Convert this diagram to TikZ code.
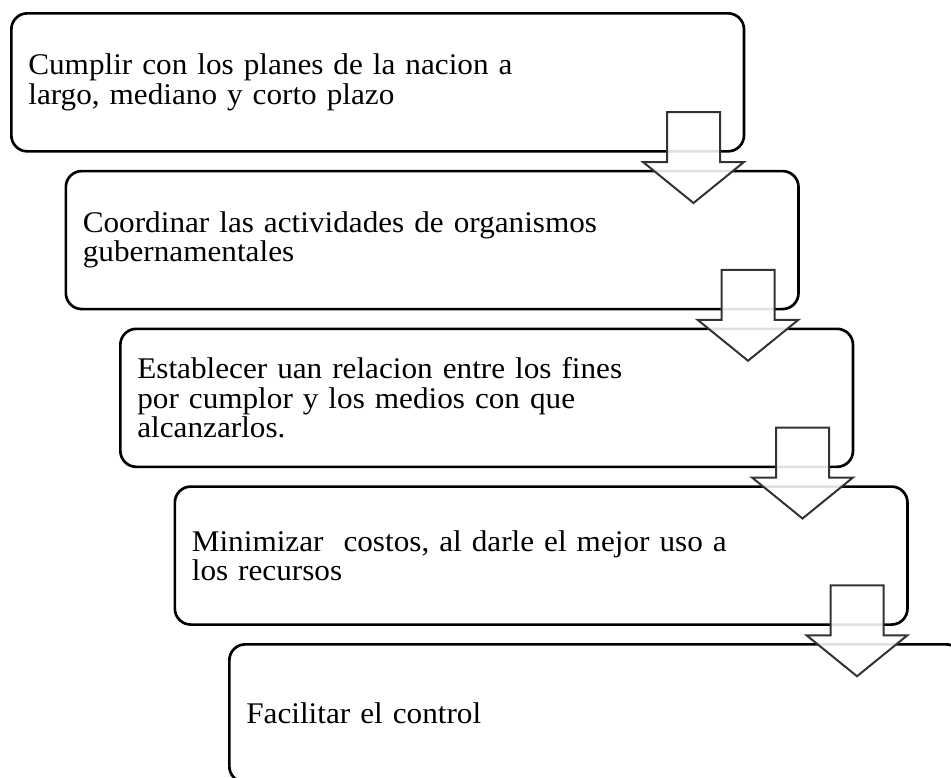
\documentclass[tikz,border=0pt]{standalone}
\usepackage{fontspec}
\setmainfont[FakeStretch=1.04]{Liberation Serif}
\usetikzlibrary{calc}
\def\boxh{103.5pt}
\def\boxtw{524pt}

\tikzset{
  stepbox/.style={draw, line width=2pt, rounded corners=12pt, anchor=north west,
    minimum height=\boxh, text width=\boxtw, inner xsep=12.75pt, align=left,
    font=\fontsize{22.5}{22}\selectfont},
  downarrow/.pic={
    \draw[line width=1.5pt, black!80, fill=white, fill opacity=.88, line join=miter]
      (-26.5,0) -- (26.5,0) -- (26.5,50) -- (50.5,50) -- (0,91)
      -- (-50.5,50) -- (-26.5,50) -- cycle;
  }
}

\begin{document}
\begin{tikzpicture}[x=.75pt,y=-.75pt]
  \useasboundingbox (0,0) rectangle (951,778);
  \clip (0,0) rectangle (951,778);

  \node[stepbox] (box1) at (10,12)
    {Cumplir con los planes de la nacion a\\largo, mediano y corto plazo};
  \node[stepbox] (box2) at (64.5,169.75)
    {Coordinar las actividades de organismos\\gubernamentales};
  \node[stepbox] (box3) at (119,327.5)
    {Establecer uan relacion entre los fines\\por cumplor y los medios con que\\alcanzarlos.};
  \node[stepbox] (box4) at (173.5,485.25)
    {Minimizar\ \ costos, al darle el mejor uso a\\los recursos};
  \node[stepbox] (box5) at (228,643)
    {Facilitar el control};

  % arrows on top of the boxes
  \foreach \i in {1,...,4} {
    \pic at ($(box\i.north west)+(683.5,100)$) {downarrow};
  }
\end{tikzpicture}
\end{document}
